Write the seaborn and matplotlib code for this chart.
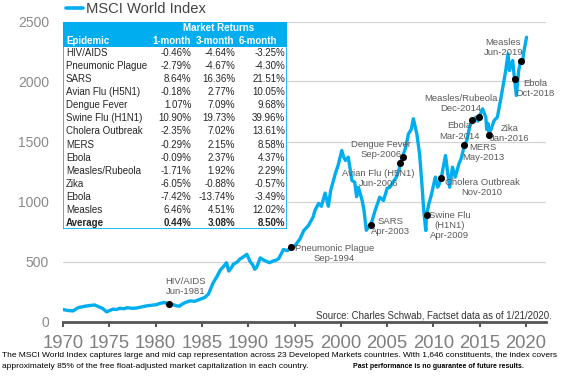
import numpy as np
import pandas as pd
import matplotlib
matplotlib.use("Agg")
import matplotlib.pyplot as plt
from matplotlib import font_manager
from matplotlib.patches import Rectangle
import seaborn as sns

# ---------------- data ----------------
years = [1970.0, 1970.5, 1971.1, 1971.5, 1971.8, 1972.4, 1972.9, 1973.4, 1973.8, 1974.3,
         1974.7, 1975.0, 1975.4, 1975.8, 1976.1, 1976.6, 1976.9, 1977.5, 1977.9, 1978.3,
         1978.7, 1979.0, 1979.7, 1980.1, 1980.4, 1980.9, 1981.45, 1981.9, 1982.3, 1982.6,
         1982.8, 1983.2, 1983.7, 1984.2, 1984.8, 1985.3, 1985.7, 1986.2, 1986.6, 1987.0,
         1987.3, 1987.65, 1987.9, 1988.2, 1988.4, 1988.8, 1989.1, 1989.5, 1989.85, 1990.2,
         1990.5, 1990.7, 1990.9, 1991.3, 1991.6, 1992.0, 1992.3, 1992.7, 1993.0, 1993.3,
         1993.8, 1994.2, 1994.67, 1995.0, 1995.6, 1996.0, 1996.5, 1997.0, 1997.2, 1997.6,
         1997.9, 1998.3, 1998.65, 1998.9, 1999.4, 1999.7, 2000.1, 2000.3, 2000.5, 2000.8,
         2001.2, 2001.5, 2001.7, 2001.9, 2002.3, 2002.5, 2002.75, 2003.0, 2003.25, 2003.7,
         2004.2, 2004.6, 2005.0, 2005.3, 2005.7, 2006.0, 2006.3, 2006.42, 2006.67, 2007.0,
         2007.3, 2007.6, 2007.83, 2008.2, 2008.5, 2008.75, 2008.95, 2009.17, 2009.25, 2009.5,
         2009.8, 2010.2, 2010.45, 2010.6, 2010.83, 2011.3, 2011.55, 2011.75, 2012.05, 2012.35,
         2012.75, 2013.0, 2013.33, 2013.6, 2013.9, 2014.17, 2014.6, 2014.8, 2014.92, 2015.3,
         2015.65, 2015.75, 2015.9, 2016.0, 2016.3, 2016.55, 2016.9, 2017.3, 2017.8, 2018.05,
         2018.2, 2018.55, 2018.75, 2018.95, 2019.2, 2019.42, 2019.6, 2019.75, 2020.05]
index_values = [100, 92, 88, 110, 118, 128, 133, 138, 125, 108,
                80, 90, 103, 100, 110, 106, 115, 110, 112, 118,
                125, 130, 137, 140, 150, 158, 147, 140, 130, 128,
                142, 158, 172, 168, 185, 200, 228, 320, 372, 430,
                455, 490, 420, 450, 478, 495, 520, 540, 560, 500,
                470, 435, 450, 530, 515, 500, 490, 505, 510, 525,
                600, 590, 620, 625, 690, 758, 800, 870, 925, 985,
                960, 1070, 960, 1092, 1231, 1300, 1425, 1370, 1342, 1369,
                1175, 1160, 1040, 1119, 1008, 925, 760, 790, 808, 925,
                1036, 1008, 1110, 1119, 1170, 1203, 1270, 1322, 1375, 1450,
                1564, 1600, 1689, 1564, 1397, 1147, 925, 758, 889, 980,
                1064, 1203, 1119, 1140, 1194, 1383, 1231, 1119, 1286, 1203,
                1314, 1360, 1467, 1508, 1620, 1675, 1703, 1670, 1703, 1772,
                1703, 1600, 1650, 1558, 1620, 1675, 1703, 1869, 2092, 2230,
                2092, 2175, 2022, 1883, 2092, 2175, 2150, 2244, 2369]

event_names = ["HIV/AIDS", "Pneumonic Plague", "SARS", "Avian Flu (H5N1)", "Dengue Fever",
               "Swine Flu\n(H1N1)", "Cholera Outbreak", "MERS", "Ebola", "Measles/Rubeola",
               "Zika", "Ebola", "Measles"]
event_dates = ["Jun-1981", "Sep-1994", "Apr-2003", "Jun-2006", "Sep-2006", "Apr-2009",
               "Nov-2010", "May-2013", "Mar-2014", "Dec-2014", "Jan-2016", "Oct-2018", "Jun-2019"]
event_years = [1981.45, 1994.67, 2003.25, 2006.42, 2006.67, 2009.25, 2010.83, 2013.33,
               2014.17, 2014.92, 2016.0, 2018.75, 2019.42]

table_epidemics = ["HIV/AIDS", "Pneumonic Plague", "SARS", "Avian Flu (H5N1)", "Dengue Fever",
                   "Swine Flu (H1N1)", "Cholera Outbreak", "MERS", "Ebola", "Measles/Rubeola",
                   "Zika", "Ebola", "Measles", "Average"]
ret_1m = ["-0.46%", "-2.79%", "8.64%", "-0.18%", "1.07%", "10.90%", "-2.35%", "-0.29%",
          "-0.09%", "-1.71%", "-6.05%", "-7.42%", "6.46%", "0.44%"]
ret_3m = ["-4.64%", "-4.67%", "16.36%", "2.77%", "7.09%", "19.73%", "7.02%", "2.15%",
          "2.37%", "1.92%", "-0.88%", "-13.74%", "4.51%", "3.08%"]
ret_6m = ["-3.25%", "-4.30%", "21.51%", "10.05%", "9.68%", "39.96%", "13.61%", "8.58%",
          "4.37%", "2.29%", "-0.57%", "-3.49%", "12.02%", "8.50%"]

x_ticks = [1970, 1975, 1980, 1985, 1990, 1995, 2000, 2005, 2010, 2015, 2020]
y_ticks = [0, 500, 1000, 1500, 2000, 2500]

# ---------------- style ----------------
sns.set_theme(style="white")
plt.rcParams["font.family"] = ["Liberation Sans", "DejaVu Sans"]

BLUE = "#00AEEF"
W, H = 567, 377
fig = plt.figure(figsize=(W / 100, H / 100), dpi=100)
ax = fig.add_axes([63 / W, 1 - 321.5 / H, (546 - 63) / W, 300 / H])

df = pd.DataFrame({"year": years, "MSCI World Index": index_values})
sns.lineplot(data=df, x="year", y="MSCI World Index", ax=ax, color=BLUE, lw=2.4,
             label="MSCI World Index", zorder=3)

ev = pd.DataFrame({"year": event_years,
                   "value": np.interp(event_years, years, index_values)})
sns.scatterplot(data=ev, x="year", y="value", ax=ax, color="black", s=26,
                edgecolor="black", linewidth=0, zorder=5, legend=False)

ax.set_xlim(1970, 2022.15)
ax.set_ylim(0, 2500)
ax.set_xticks(x_ticks)
ax.set_yticks(y_ticks)
ax.set_xlabel("")
ax.set_ylabel("")
for s in ["top", "right", "left"]:
    ax.spines[s].set_visible(False)
ax.spines["bottom"].set_color("#555555")
ax.spines["bottom"].set_linewidth(2.0)
ax.grid(axis="y", color="#d4d4d4", lw=0.9)
ax.grid(axis="x", visible=False)
ax.set_axisbelow(True)
ax.tick_params(axis="x", direction="out", length=3.5, width=1.2, color="#333333",
               labelsize=13.3, labelcolor="#7f7f7f", pad=6, bottom=True)
ax.tick_params(axis="y", length=0, labelsize=10, labelcolor="#8a8a8a", pad=10)

# legend
leg = ax.legend(loc="center left", bbox_to_anchor=(66 / W, 1 - 9 / H),
                bbox_transform=fig.transFigure, frameon=False, fontsize=10.6,
                handlelength=1.15, handletextpad=0.2, borderpad=0, borderaxespad=0)
for t in leg.get_texts():
    t.set_color("#444444")
for l in leg.get_lines():
    l.set_linewidth(2.6)

# event labels (offsets in pixels from the dot)
offsets = [(17, 17), (43, -6), (20, -2), (-22, -16), (-22, 7), (23, -11), (41, -9),
           (19, -7.5), (-13, -10.5), (-18, 14), (21, 1.5), (21, -9.5), (-17.5, 13)]
for name, date, yr, val, (dx, dy) in zip(event_names, event_dates, ev["year"], ev["value"], offsets):
    ax.annotate(f"{name}\n{date}", (yr, val), xytext=(dx, dy), textcoords="offset pixels",
                ha="center", va="center", fontsize=6.8, color="#5a5a5a",
                linespacing=1.15, zorder=6)

# source
ax.text(552 / W, 1 - 315.7 / H, "Source: Charles Schwab, Factset data as of 1/21/2020.",
        transform=fig.transFigure, ha="right", va="center", fontsize=6.9, color="#333333")

# ---------------- table ----------------
tx0, tx1, ty0, ty1 = 63, 287, 22, 229
tab = fig.add_axes([tx0 / W, 1 - ty1 / H, (tx1 - tx0) / W, (ty1 - ty0) / H], zorder=10)
tab.set_xlim(tx0, tx1)
tab.set_ylim(ty1, ty0)
tab.axis("off")
tab.add_patch(Rectangle((tx0, ty0), tx1 - tx0, ty1 - ty0, facecolor="white",
                        edgecolor=BLUE, lw=1.2, zorder=1))
tab.add_patch(Rectangle((tx0, ty0), tx1 - tx0, 47 - ty0, facecolor=BLUE,
                        edgecolor=BLUE, lw=0, zorder=2))
fs = 7.0
tab.text(219, 28, "Market Returns", ha="center", va="center", fontsize=fs,
         fontweight="bold", color="white", zorder=3)
tab.text(66, 41, "Epidemic", ha="left", va="center", fontsize=fs,
         fontweight="bold", color="white", zorder=3)
for lbl, xc in zip(["1-month", "3-month", "6-month"], [171.5, 214.5, 257.5]):
    tab.text(xc, 41, lbl, ha="center", va="center", fontsize=fs,
             fontweight="bold", color="white", zorder=3)
row_y0, row_dy = 53.3, 13.03
for i, (ep, a, b, c) in enumerate(zip(table_epidemics, ret_1m, ret_3m, ret_6m)):
    yy = row_y0 + i * row_dy
    fw = "bold" if ep == "Average" else "normal"
    tab.text(66, yy, ep, ha="left", va="center", fontsize=fs, color="#262626",
             fontweight=fw, zorder=3)
    for v, xr in zip([a, b, c], [191.5, 235, 285]):
        tab.text(xr, yy, v, ha="right", va="center", fontsize=fs, color="#262626",
                 fontweight=fw, zorder=3)

# ---------------- footer ----------------
def has_font(name):
    try:
        font_manager.findfont(font_manager.FontProperties(family=name), fallback_to_default=False)
        return True
    except Exception:
        return False

if has_font("Liberation Sans Narrow"):
    ffam, ffs, bfs = "Liberation Sans Narrow", 7.3, 5.8
else:
    ffam, ffs, bfs = "Liberation Sans", 6.05, 5.0
line1 = ("The MSCI World Index captures large and mid cap representation across 23 Developed "
         "Markets countries. With 1,646 constituents, the index covers")
line2a = "approximately 85% of the free float-adjusted market capitalization in each country."
line2b = "Past performance is no guarantee of future results."
fig.text(2 / W, 1 - 355.5 / H, line1, ha="left", va="center", fontsize=ffs,
         family=ffam, color="black")
fig.text(2 / W, 1 - 366.8 / H, line2a, ha="left", va="center", fontsize=ffs,
         family=ffam, color="black")
fig.text(353 / W, 1 - 366.8 / H, line2b, ha="left", va="center", fontsize=bfs,
         family=ffam, color="black", fontweight="bold")

fig.savefig("out.png", dpi=100)
